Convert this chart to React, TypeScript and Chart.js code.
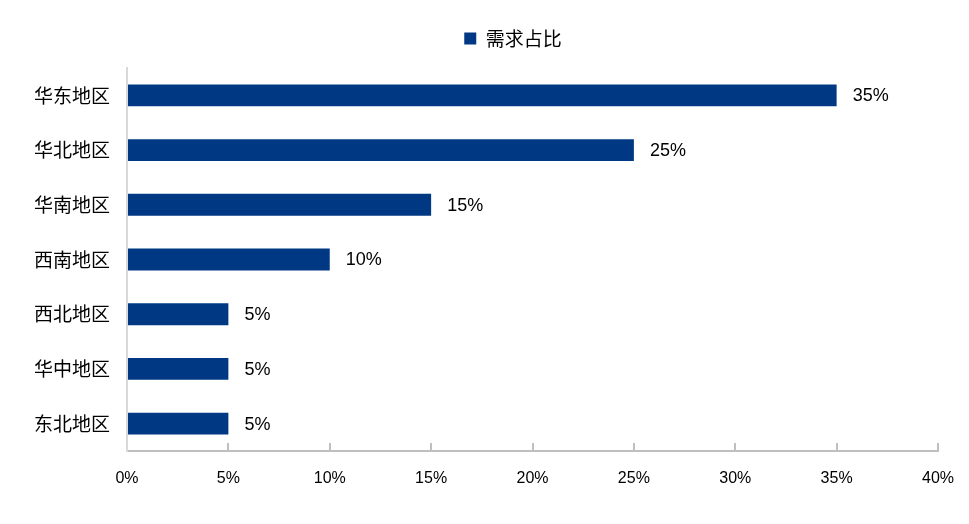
import React, { useRef, useEffect } from 'react';
import { Chart, registerables } from 'chart.js';
import type { ChartConfiguration, Plugin } from 'chart.js';

Chart.register(...registerables);

const regions = ['华东地区', '华北地区', '华南地区', '西南地区', '西北地区', '华中地区', '东北地区'];
const shares = [35, 25, 15, 10, 5, 5, 5];
const seriesName = '需求占比';
const xTicks = [0, 5, 10, 15, 20, 25, 30, 35, 40];

const barColor = '#003883';
const cjkFont = "'Noto Sans CJK SC', sans-serif";
const numFont = "'Liberation Sans', Arial, sans-serif";

// value labels at the end of each bar
const valueLabels: Plugin<'bar'> = {
  id: 'valueLabels',
  afterDatasetsDraw(chart) {
    const { ctx } = chart;
    const meta = chart.getDatasetMeta(0);
    ctx.save();
    ctx.font = `18px ${numFont}`;
    ctx.fillStyle = '#000';
    ctx.textAlign = 'left';
    ctx.textBaseline = 'middle';
    meta.data.forEach((bar, i) => {
      ctx.fillText(shares[i] + '%', bar.x + 16, bar.y + 1);
    });
    ctx.restore();
  },
};

// nudge the legend: it sits a bit right of centre and higher in the original
const legendShift: Plugin<'bar'> = {
  id: 'legendShift',
  afterLayout(chart) {
    const lg = chart.legend;
    if (!lg) return;
    lg.left += 44;
    lg.right += 44;
    lg.top -= 10;
    lg.bottom -= 10;
  },
};

const App: React.FC = () => {
  const chartRef = useRef<HTMLCanvasElement>(null);
  const chartInstanceRef = useRef<Chart | null>(null);

  useEffect(() => {
    document.body.style.margin = '0';
    if (!chartRef.current) return;
    if (chartInstanceRef.current) chartInstanceRef.current.destroy();

    const config: ChartConfiguration<'bar'> = {
      type: 'bar',
      data: {
        labels: regions,
        datasets: [
          {
            label: seriesName,
            data: shares,
            backgroundColor: barColor,
            borderWidth: 0,
            barPercentage: 0.4,
            categoryPercentage: 1,
          },
        ],
      },
      options: {
        indexAxis: 'y',
        animation: false,
        responsive: true,
        maintainAspectRatio: false,
        layout: { padding: { top: 8, right: 31, left: 0, bottom: 0 } },
        plugins: {
          legend: {
            position: 'top',
            labels: {
              boxWidth: 12,
              boxHeight: 12,
              padding: 21,
              color: '#000',
              font: { family: cjkFont, size: 19 },
            },
          },
          tooltip: { enabled: false },
        },
        scales: {
          x: {
            min: 0,
            max: 40,
            afterBuildTicks: (scale) => {
              scale.ticks = xTicks.map((v) => ({ value: v }));
            },
            afterFit: (scale) => {
              scale.height = 73;
              scale.paddingLeft = 0;
              scale.paddingRight = 0;
            },
            grid: {
              drawOnChartArea: false,
              drawTicks: true,
              tickLength: -8,
              color: '#bfbfbf',
              lineWidth: 2,
            },
            border: { display: true, color: '#bfbfbf', width: 2 },
            ticks: {
              padding: 26,
              color: '#000',
              font: { family: numFont, size: 16 },
              callback: (v) => v + '%',
            },
          },
          y: {
            afterFit: (scale) => {
              scale.width = 127;
              scale.paddingTop = 68;
              scale.paddingBottom = 0;
            },
            grid: { display: false },
            border: { display: true, color: '#d9d9d9', width: 2 },
            ticks: {
              padding: 9,
              color: '#000',
              font: { family: cjkFont, size: 19 },
            },
          },
        },
      },
      plugins: [valueLabels, legendShift],
    };

    chartInstanceRef.current = new Chart(chartRef.current, config);

    return () => {
      if (chartInstanceRef.current) {
        chartInstanceRef.current.destroy();
        chartInstanceRef.current = null;
      }
    };
  }, []);

  return (
    <div style={{ width: 969, height: 524, position: 'relative', background: '#fff' }}>
      <canvas ref={chartRef}></canvas>
    </div>
  );
};

export default App;
